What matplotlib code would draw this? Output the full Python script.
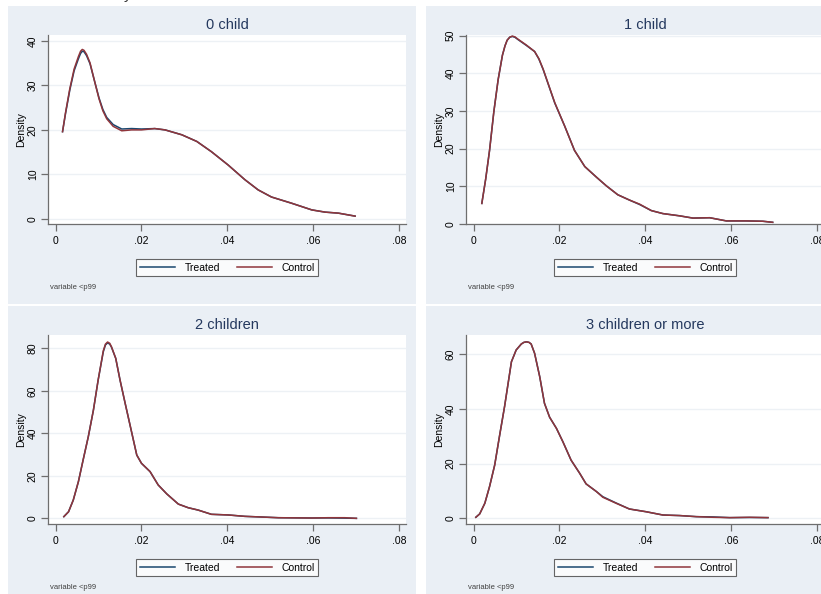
import matplotlib
matplotlib.use('Agg')
import matplotlib.pyplot as plt
from matplotlib.patches import Rectangle
from matplotlib.lines import Line2D

plt.rcParams['font.family'] = ['Liberation Sans', 'DejaVu Sans']

# panel titles and tick labels
titles = ['0 child', '1 child', '2 children', '3 children or more']
xticks = [0, 0.02, 0.04, 0.06, 0.08]
xticklabels = ['0', '.02', '.04', '.06', '.08']
yticks = [[0, 10, 20, 30, 40], [0, 10, 20, 30, 40, 50], [0, 20, 40, 60, 80], [0, 20, 40, 60]]
note = 'variable <p99'

# density curves
x0 = [0.0016, 0.0023, 0.0033, 0.0043, 0.0053, 0.0058, 0.0062, 0.0066, 0.0072, 0.0080, 0.0090,
      0.0101, 0.0110, 0.0119, 0.0134, 0.0154, 0.0177, 0.0200, 0.0231, 0.0255, 0.0294, 0.0329,
      0.0363, 0.0402, 0.0441, 0.0472, 0.0503, 0.0550, 0.0597, 0.0628, 0.0659, 0.0698]
treated0 = [19.6, 23.7, 29.0, 33.3, 36.0, 37.2, 37.7, 37.6, 36.7, 34.9, 31.2,
            27.2, 24.6, 22.8, 21.2, 20.2, 20.3, 20.2, 20.3, 20.0, 18.9, 17.4,
            15.1, 12.1, 8.8, 6.5, 4.9, 3.5, 2.0, 1.5, 1.27, 0.6]
control0 = [19.6, 23.9, 29.3, 33.7, 36.5, 37.7, 38.1, 37.9, 37.0, 35.1, 31.2,
            27.0, 24.3, 22.5, 20.8, 19.8, 20.0, 20.0, 20.3, 20.0, 18.9, 17.4,
            15.1, 12.1, 8.8, 6.5, 4.9, 3.5, 2.0, 1.5, 1.27, 0.6]

x1 = [0.0019, 0.0028, 0.0037, 0.0047, 0.0057, 0.0067, 0.0073, 0.0078, 0.0084, 0.0090, 0.0096,
      0.0103, 0.0123, 0.0142, 0.0152, 0.0162, 0.0189, 0.0212, 0.0235, 0.0259, 0.0286, 0.0309,
      0.0336, 0.0363, 0.0387, 0.0414, 0.0441, 0.0480, 0.0511, 0.0550, 0.0589, 0.0635, 0.0674, 0.0697]
treated1 = [5.4, 11.9, 19.5, 29.8, 38.3, 44.8, 47.3, 48.8, 49.6, 49.8, 49.6,
            49.0, 47.4, 45.8, 43.8, 41.0, 32.1, 26.0, 19.5, 15.2, 12.4, 10.1,
            7.7, 6.3, 5.1, 3.5, 2.7, 2.1, 1.5, 1.6, 0.75, 0.75, 0.66, 0.38]
control1 = [5.4, 11.9, 19.5, 29.8, 38.3, 44.8, 47.3, 48.8, 49.6, 49.9, 49.7,
            49.1, 47.5, 45.8, 43.9, 41.1, 32.2, 26.0, 19.5, 15.2, 12.4, 10.1,
            7.7, 6.3, 5.2, 3.5, 2.7, 2.1, 1.5, 1.6, 0.75, 0.75, 0.66, 0.38]

x2 = [0.0019, 0.0030, 0.0041, 0.0053, 0.0064, 0.0076, 0.0088, 0.0099, 0.0111, 0.0116, 0.0121,
      0.0126, 0.0130, 0.0140, 0.0150, 0.0162, 0.0175, 0.0189, 0.0200, 0.0220, 0.0239, 0.0259,
      0.0286, 0.0309, 0.0332, 0.0363, 0.0402, 0.0441, 0.0480, 0.0519, 0.0597, 0.0635, 0.0674, 0.0701]
treated2 = [0.8, 3.1, 8.6, 17.3, 27.5, 38.4, 51.0, 65.1, 78.4, 81.6, 82.6,
            82.0, 80.6, 75.3, 65.1, 54.1, 42.4, 29.8, 25.9, 22.0, 15.7, 11.5,
            6.7, 5.0, 3.9, 1.9, 1.6, 0.94, 0.63, 0.3, 0.16, 0.2, 0.1, 0.0]
control2 = [0.8, 3.1, 8.6, 17.3, 27.5, 38.4, 51.0, 65.1, 78.9, 82.0, 83.0,
            82.4, 80.8, 75.3, 65.1, 54.1, 42.4, 29.8, 25.9, 22.0, 15.7, 11.5,
            6.7, 5.0, 3.9, 1.9, 1.6, 0.94, 0.63, 0.3, 0.16, 0.3, 0.3, 0.0]

x3 = [0.0005, 0.0014, 0.0026, 0.0037, 0.0049, 0.0060, 0.0072, 0.0088, 0.0099, 0.0111, 0.0117,
      0.0123, 0.0129, 0.0134, 0.0142, 0.0154, 0.0165, 0.0177, 0.0193, 0.0208, 0.0227, 0.0247,
      0.0262, 0.0286, 0.0301, 0.0332, 0.0363, 0.0402, 0.0441, 0.0480, 0.0519, 0.0558, 0.0597,
      0.0643, 0.0686]
treated3 = [0.37, 1.6, 5.5, 11.6, 19.5, 29.9, 40.9, 57.3, 61.6, 63.8, 64.4,
            64.6, 64.4, 63.8, 60.4, 51.8, 42.1, 37.0, 32.9, 28.0, 21.3, 16.5,
            12.6, 9.8, 7.9, 5.6, 3.4, 2.4, 1.2, 1.0, 0.6, 0.5, 0.24,
            0.3, 0.24]
control3 = [0.37, 1.6, 5.5, 11.6, 19.5, 29.9, 40.9, 57.3, 61.6, 63.8, 64.4,
            64.6, 64.4, 63.8, 60.4, 51.8, 42.1, 37.0, 32.9, 28.0, 21.3, 16.5,
            12.6, 9.8, 7.7, 5.5, 3.4, 2.4, 1.2, 1.0, 0.6, 0.37, 0.24,
            0.37, 0.24]

xs = [x0, x1, x2, x3]
treated = [treated0, treated1, treated2, treated3]
control = [control0, control1, control2, control3]
ylims = [(-1.24, 41.35), (-0.15, 50.19), (-2.8, 86.3), (-2.2, 67.1)]

W, H = 821, 594
bg = '#eaeff5'
navy = '#1a476f'
maroon = '#90353b'


def fbox(l, t, r, b):
    return [l / W, 1 - b / H, (r - l) / W, (b - t) / H]


fig = plt.figure(figsize=(W / 100, H / 100), dpi=100)
fig.patch.set_facecolor('white')

# panel geometry in pixels: background box, plot area
panel_bg = [(8, 6, 416, 303.5), (426, 6, 834, 303.5), (8, 306, 416, 594), (426, 306, 834, 594)]
plot_area = [(48.3, 35, 406, 224.3), (466.3, 35, 824, 224.3),
             (48.3, 335, 406, 524.3), (466.3, 335, 824, 524.3)]
xlim = (-0.00172, 0.08166)

for i in range(4):
    l, t, r, b = panel_bg[i]
    fig.patches.append(Rectangle((l / W, 1 - b / H), (r - l) / W, (b - t) / H,
                                 transform=fig.transFigure, facecolor=bg, edgecolor='none', zorder=-10))

    pl, pt, pr, pb = plot_area[i]
    ax = fig.add_axes(fbox(pl, pt, pr, pb))
    ax.set_facecolor('white')
    ax.plot(xs[i], treated[i], color=navy, lw=1.1, label='Treated')
    ax.plot(xs[i], control[i], color=maroon, lw=1.1, label='Control')
    ax.set_xlim(xlim)
    ax.set_ylim(ylims[i])
    ax.set_xticks(xticks)
    ax.set_xticklabels(xticklabels)
    ax.set_yticks(yticks[i])
    ax.set_yticklabels([str(v) for v in yticks[i]], rotation=90, va='center')
    ax.grid(axis='y', color='#edf1f5', lw=1.0)
    ax.set_axisbelow(True)
    for s in ['top', 'right']:
        ax.spines[s].set_visible(False)
    for s in ['left', 'bottom']:
        ax.spines[s].set_color('#6e6e6e')
        ax.spines[s].set_linewidth(0.9)
    ax.tick_params(axis='both', direction='out', length=5, width=0.9, color='#6e6e6e',
                   labelsize=7.5, labelcolor='black')
    ax.tick_params(axis='x', pad=3.5)
    ax.tick_params(axis='y', pad=2.5)
    ax.set_ylabel('Density', fontsize=7.5)
    ax.yaxis.set_label_coords(-0.063, 0.5)

    cx = (pl + pr) / 2
    fig.text(cx / W, 1 - (pt - 10) / H, titles[i], ha='center', va='center',
             fontsize=10.5, color='#24385e')

    handles = [Line2D([], [], color=navy, lw=1.1), Line2D([], [], color=maroon, lw=1.1)]
    leg = ax.legend(handles, ['Treated', 'Control'], loc='center', ncol=2,
                    bbox_to_anchor=(cx / W, 1 - (pb + 43.5) / H), bbox_transform=fig.transFigure,
                    fontsize=7.5, frameon=True, fancybox=False, handlelength=3.4,
                    handletextpad=0.9, columnspacing=1.6, borderpad=0.35, borderaxespad=0)
    leg.get_frame().set_edgecolor('#404040')
    leg.get_frame().set_linewidth(0.8)

    fig.text((pl + 1.5) / W, 1 - (pb + 63) / H, note, ha='left', va='center',
             fontsize=5.5, color='#404040')

# descender of text cut off at the top edge
fig.text(124 / W, 1 + 1 / H, 'y', ha='left', va='baseline', fontsize=11, color='#333333')

fig.savefig('out.png', dpi=100)
